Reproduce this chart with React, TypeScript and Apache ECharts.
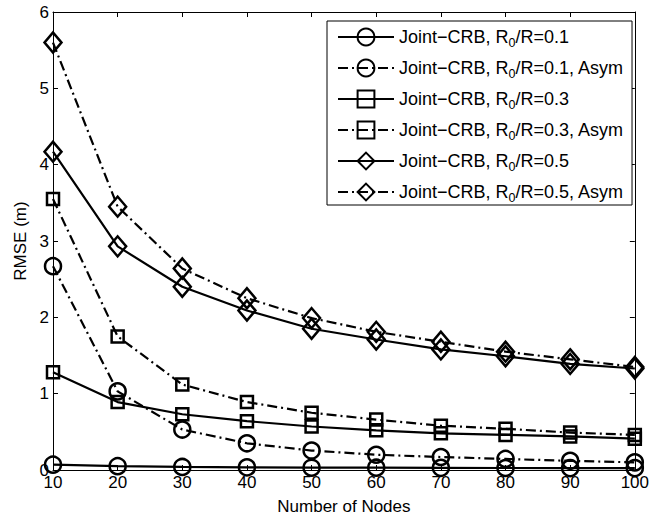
import React, { useEffect, useRef } from "react";
import * as echarts from "echarts";

const nodes = [10, 20, 30, 40, 50, 60, 70, 80, 90, 100];
const crb01 = [0.07, 0.05, 0.04, 0.035, 0.03, 0.03, 0.028, 0.026, 0.025, 0.025];
const crb01Asym = [2.67, 1.03, 0.53, 0.35, 0.255, 0.2, 0.17, 0.145, 0.12, 0.1];
const crb03 = [1.28, 0.89, 0.73, 0.64, 0.57, 0.52, 0.48, 0.46, 0.44, 0.41];
const crb03Asym = [3.55, 1.75, 1.12, 0.89, 0.75, 0.66, 0.58, 0.54, 0.49, 0.46];
const crb05 = [4.17, 2.93, 2.4, 2.09, 1.85, 1.71, 1.58, 1.49, 1.39, 1.33];
const crb05Asym = [5.6, 3.45, 2.64, 2.25, 1.99, 1.81, 1.68, 1.55, 1.45, 1.35];

const seriesNames = [
  "Joint−CRB, R0/R=0.1",
  "Joint−CRB, R0/R=0.1, Asym",
  "Joint−CRB, R0/R=0.3",
  "Joint−CRB, R0/R=0.3, Asym",
  "Joint−CRB, R0/R=0.5",
  "Joint−CRB, R0/R=0.5, Asym",
];
const seriesValues = [crb01, crb01Asym, crb03, crb03Asym, crb05, crb05Asym];
const seriesSymbols = ["circle", "circle", "rect", "rect", "diamond", "diamond"];
const seriesSymbolSizes: any[] = [16, 16, 12, 12, [17, 20], [17, 20]];
const seriesDashed = [false, true, false, true, false, true];

const FONT = "Liberation Sans, Arial, sans-serif";
const FS = 17;

export default function App() {
  const ref = useRef<HTMLDivElement>(null);
  useEffect(() => {
    if (!ref.current) return;
    const chart = echarts.init(ref.current, undefined, { renderer: "svg" });
    const series = seriesNames.map((name, i) => ({
      name,
      type: "line",
      xAxisIndex: 0,
      yAxisIndex: 0,
      data: nodes.map((n, j) => [n, seriesValues[i][j]]),
      symbol: seriesSymbols[i],
      symbolSize: seriesSymbolSizes[i],
      showAllSymbol: true,
      clip: false,
      lineStyle: {
        color: "#000",
        width: 2.2,
        type: seriesDashed[i] ? [10, 4, 2, 4] : "solid",
      },
      itemStyle: {
        color: "rgba(255,255,255,0)",
        borderColor: "#000",
        borderWidth: 2.5,
      },
      emphasis: { disabled: true },
    }));
    chart.setOption({
      animation: false,
      backgroundColor: "#fff",
      textStyle: { fontFamily: FONT },
      grid: { left: 53, right: 17, top: 12, bottom: 52, containLabel: false },
      legend: {
        orient: "vertical",
        left: 327,
        top: 21,
        padding: [4, 8, 1, 10],
        itemWidth: 56,
        itemHeight: 21,
        itemGap: 7,
        backgroundColor: "#fff",
        borderColor: "#000",
        borderWidth: 1,
        borderRadius: 0,
        data: seriesNames,
        formatter: (name: string) => name.replace("R0", "R{sub|0}"),
        textStyle: {
          fontFamily: FONT,
          fontSize: 18,
          color: "#000",
          lineHeight: 24,
          rich: {
            sub: {
              fontFamily: FONT,
              fontSize: 12.5,
              lineHeight: 24,
              verticalAlign: "bottom",
              color: "#000",
            },
          },
        },
      },
      xAxis: [
        {
          type: "value",
          min: 10,
          max: 100,
          interval: 10,
          name: "Number of Nodes",
          nameLocation: "middle",
          nameGap: 28,
          nameTextStyle: { fontFamily: FONT, fontSize: FS, color: "#000" },
          axisLine: { show: true, onZero: false, lineStyle: { color: "#000", width: 1 } },
          axisTick: { show: true, inside: true, length: 5, lineStyle: { color: "#000" } },
          axisLabel: { fontFamily: FONT, fontSize: FS, color: "#000", margin: 4 },
          splitLine: { show: false },
        },
        {
          type: "value",
          position: "top",
          min: 10,
          max: 100,
          interval: 10,
          axisLine: { show: true, onZero: false, lineStyle: { color: "#000", width: 1 } },
          axisTick: { show: true, inside: true, length: 5, lineStyle: { color: "#000" } },
          axisLabel: { show: false },
          splitLine: { show: false },
        },
      ],
      yAxis: [
        {
          type: "value",
          min: 0,
          max: 6,
          interval: 1,
          name: "RMSE (m)",
          nameLocation: "middle",
          nameGap: 22,
          nameTextStyle: { fontFamily: FONT, fontSize: FS, color: "#000" },
          axisLine: { show: true, onZero: false, lineStyle: { color: "#000", width: 1 } },
          axisTick: { show: true, inside: true, length: 5, lineStyle: { color: "#000" } },
          axisLabel: { fontFamily: FONT, fontSize: FS, color: "#000", margin: 4 },
          splitLine: { show: false },
        },
        {
          type: "value",
          position: "right",
          min: 0,
          max: 6,
          interval: 1,
          axisLine: { show: true, onZero: false, lineStyle: { color: "#000", width: 1 } },
          axisTick: { show: true, inside: true, length: 5, lineStyle: { color: "#000" } },
          axisLabel: { show: false },
          splitLine: { show: false },
        },
      ],
      series,
    });
    return () => chart.dispose();
  }, []);
  return (
    <div
      ref={ref}
      style={{ position: "fixed", left: 0, top: 0, width: 652, height: 522, background: "#fff" }}
    />
  );
}
